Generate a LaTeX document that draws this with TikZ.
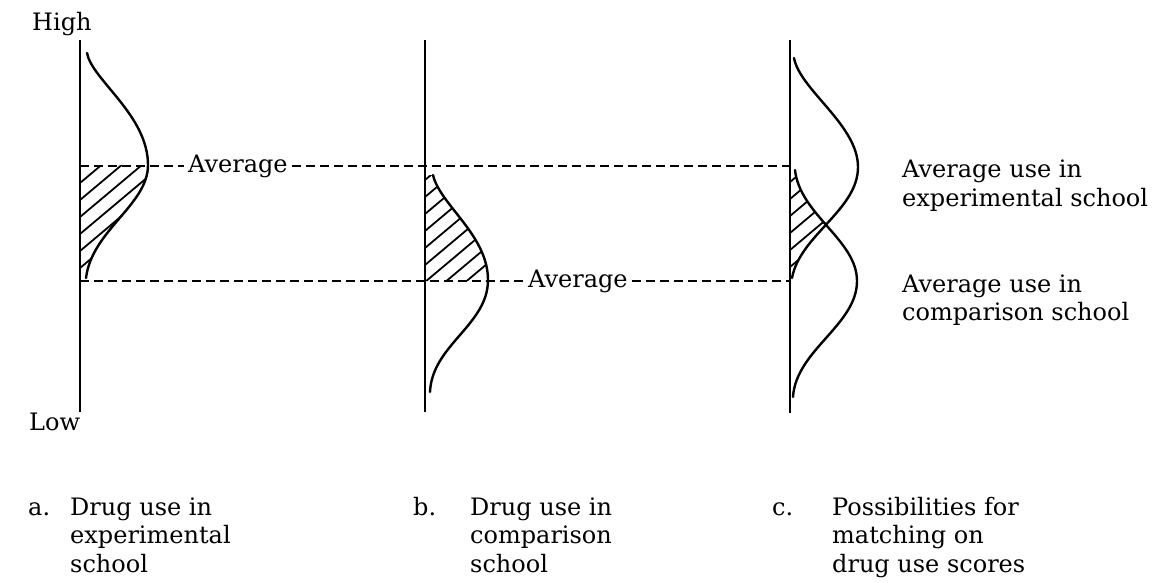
\documentclass[tikz,border=0pt]{standalone}
\usepackage{fontspec}
\setmainfont{DejaVu Serif}
\begin{document}
\begin{tikzpicture}[x=1pt,y=-1pt,
  axisline/.style={line width=2.4pt},
  curveline/.style={line width=2.4pt,line join=round,line cap=round},
  hatchline/.style={line width=1.8pt},
  dsh/.style={line width=1.8pt,dash pattern=on 9pt off 5pt},
  lbl/.style={font=\fontsize{24}{28}\selectfont,inner sep=0pt,anchor=base west},
  avglbl/.style={font=\fontsize{24}{28}\selectfont,inner sep=4pt,anchor=west}]
\useasboundingbox (0,0) rectangle (1160,582);
\fill[white] (0,0) rectangle (1160,582);
% axes
\coordinate (aTop) at (80,40); \coordinate (aBot) at (80,412);
\coordinate (bTop) at (425,40); \coordinate (bBot) at (425,412);
\coordinate (cTop) at (790,40); \coordinate (cBot) at (790,413);
\draw[axisline] (aTop) -- (aBot);
\draw[axisline] (bTop) -- (bBot);
\draw[axisline] (cTop) -- (cBot);
% hatching a
\begin{scope}
\clip (80,165) -- (148,165) .. controls (148,205) and (92,230) .. (86,278) -- (80,278) -- cycle;
\foreach \k in {0,...,12}{\draw[hatchline] (80,{166+17*\k}) -- ++(100,-84);}
\end{scope}
% hatching b
\begin{scope}
\clip (425,175) -- (433,175) .. controls (440,205) and (488,235) .. (488,281) -- (425,281) -- cycle;
\foreach \k in {0,...,12}{\draw[hatchline] (425,{180+17*\k}) -- ++(100,-84);}
\end{scope}
% hatching c
\begin{scope}
\clip (790,170) -- (795,170) .. controls (800,215) and (857,240) .. (857,281)
  .. controls (857,325) and (796,350) .. (793,397) -- (790,397) -- cycle;
\clip (790,58) -- (794,58) .. controls (800,90) and (858,125) .. (858,167)
  .. controls (858,210) and (800,235) .. (792,278) -- (790,278) -- cycle;
\foreach \k in {0,...,12}{\draw[hatchline] (790,{182+17*\k}) -- ++(100,-84);}
\end{scope}
% curves
\draw[curveline] (87,53) .. controls (92,80) and (148,115) .. (148,165)
  .. controls (148,205) and (92,230) .. (86,278);
\draw[curveline] (433,175) .. controls (440,205) and (488,235) .. (488,280)
  .. controls (488,325) and (432,345) .. (430,392);
\draw[curveline] (794,58) .. controls (800,90) and (858,125) .. (858,167)
  .. controls (858,210) and (800,235) .. (792,278);
\draw[curveline] (795,170) .. controls (800,215) and (857,240) .. (857,281)
  .. controls (857,325) and (796,350) .. (793,397);
% average lines
\coordinate (aAvgTop) at (80,166); \coordinate (cAvgTop) at (790,166);
\coordinate (aAvgBot) at (80,281); \coordinate (cAvgBot) at (790,281);
\node[avglbl] (avg1) at (184,166) {Average};
\node[avglbl] (avg2) at (524,281) {Average};
\draw[dsh] (aAvgTop) -- (avg1.west);
\draw[dsh] (avg1.east) -- (cAvgTop);
\draw[dsh] (aAvgBot) -- (avg2.west);
\draw[dsh] (avg2.east) -- (cAvgBot);
% axis labels
\node[lbl] (high) at (32,30) {High};
\node[lbl] (low) at (29,430) {Low};
% right labels
\node[lbl] (r1) at (902,177) {Average use in};
\node[lbl] (r2) at (902,206) {experimental school};
\node[lbl] (r3) at (902,292) {Average use in};
\node[lbl] (r4) at (902,320) {comparison school};
% captions
\node[lbl] (ca) at (28,515) {a.};
\node[lbl] (ca1) at (70,515) {Drug use in};
\node[lbl] (ca2) at (70,543) {experimental};
\node[lbl] (ca3) at (70,572) {school};
\node[lbl] (cb) at (413,515) {b.};
\node[lbl] (cb1) at (470,515) {Drug use in};
\node[lbl] (cb2) at (470,543) {comparison};
\node[lbl] (cb3) at (470,572) {school};
\node[lbl] (cc) at (772,515) {c.};
\node[lbl] (cc1) at (832,515) {Possibilities for};
\node[lbl] (cc2) at (832,543) {matching on};
\node[lbl] (cc3) at (832,572) {drug use scores};
\end{tikzpicture}
\end{document}
